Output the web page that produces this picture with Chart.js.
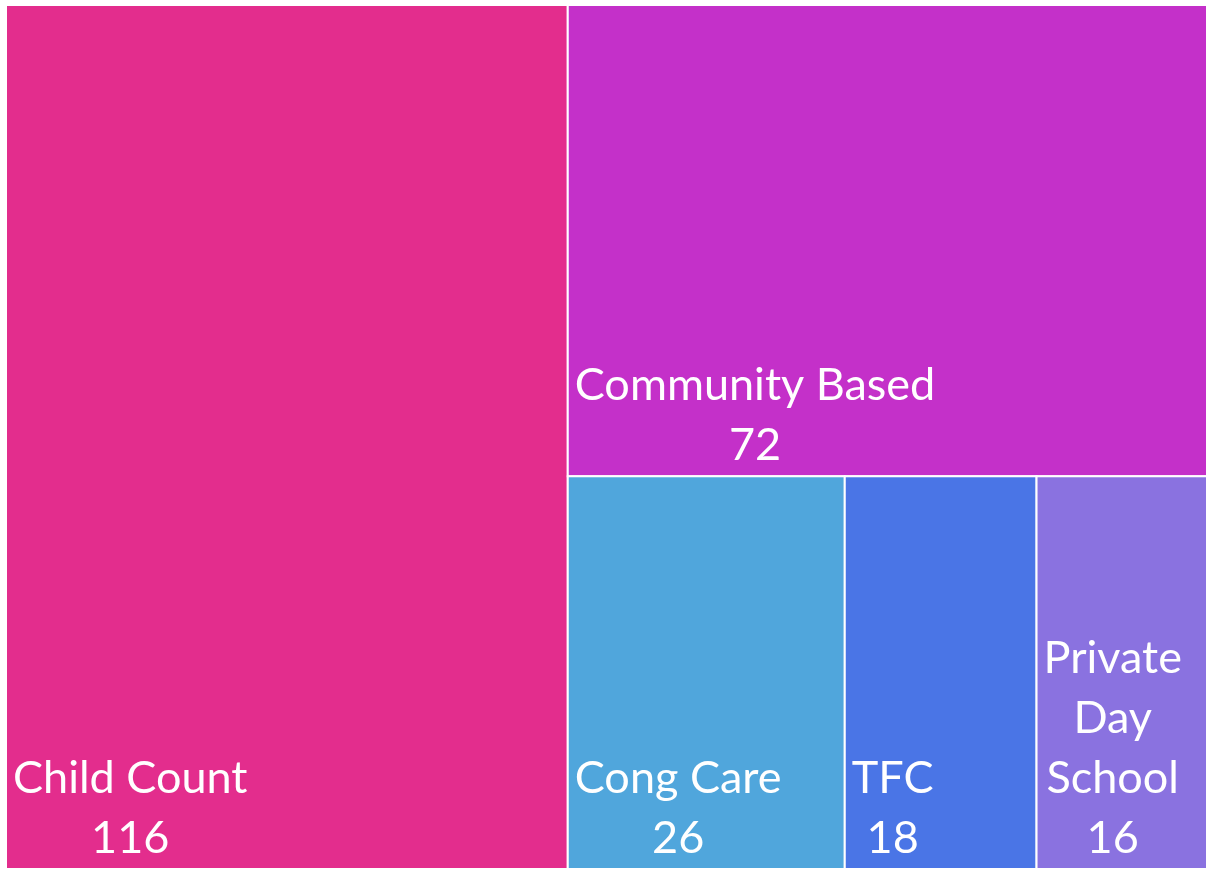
<!DOCTYPE html>
<html>
<head>
<meta charset="utf-8">
<script src="https://cdn.jsdelivr.net/npm/chart.js@4.4.0/dist/chart.umd.min.js"></script>
<style>
  html, body { margin: 0; padding: 0; background: #fff; }
  .wrap { width: 1207px; height: 869px; }
</style>
</head>
<body>
<div class="wrap"><canvas id="treeChart" width="1207" height="869"></canvas></div>
<script>
const categories = ['Child Count', 'Community Based', 'Cong Care', 'TFC', 'Private Day School']
const values = [116, 72, 26, 18, 16]
const colors = ['#E32D8D', '#C430C9', '#50A6DC', '#4A75E6', '#8A72E0']

// simple treemap: peel off the first item along the longer side,
// put the last few items in one strip
function layoutCells(items, x, y, w, h, W, H, out) {
  if (!items.length) return
  const sum = items.reduce((a, c) => a + c.value, 0)
  const wide = w * W >= h * H
  if (items.length <= 3) {
    let pos = wide ? x : y
    items.forEach(it => {
      const f = it.value / sum
      if (wide) { out.push({ ...it, x: pos, y: y, w: w * f, h: h }); pos += w * f }
      else { out.push({ ...it, x: x, y: pos, w: w, h: h * f }); pos += h * f }
    })
    return
  }
  const first = items[0]
  const f = first.value / sum
  if (wide) {
    out.push({ ...first, x: x, y: y, w: w * f, h: h })
    layoutCells(items.slice(1), x + w * f, y, w * (1 - f), h, W, H, out)
  } else {
    out.push({ ...first, x: x, y: y, w: w, h: h * f })
    layoutCells(items.slice(1), x, y + h * f, w, h * (1 - f), W, H, out)
  }
}

function wrapWords(ctx, text, maxW) {
  const words = text.split(' ')
  const lines = []
  let cur = ''
  words.forEach(word => {
    const test = cur ? cur + ' ' + word : word
    if (cur && ctx.measureText(test).width > maxW) { lines.push(cur); cur = word }
    else cur = test
  })
  if (cur) lines.push(cur)
  return lines
}

const treemapPlugin = {
  id: 'treemapCells',
  afterDatasetsDraw(chart) {
    const { ctx, chartArea, scales } = chart
    const items = categories.map((c, i) => ({ label: c, value: values[i], color: colors[i] }))
    const cells = []
    layoutCells(items, 0, 0, 1, 1, chartArea.width, chartArea.height, cells)

    ctx.save()
    cells.forEach(cell => {
      const left = scales.x.getPixelForValue(cell.x)
      const right = scales.x.getPixelForValue(cell.x + cell.w)
      const top = scales.y.getPixelForValue(cell.y)
      const bottom = scales.y.getPixelForValue(cell.y + cell.h)
      ctx.fillStyle = cell.color
      ctx.fillRect(left, top, right - left, bottom - top)
      ctx.strokeStyle = '#ffffff'
      ctx.lineWidth = 2
      ctx.strokeRect(left, top, right - left, bottom - top)

      ctx.font = '45px Lato'
      ctx.fillStyle = '#ffffff'
      ctx.textBaseline = 'alphabetic'
      ctx.textAlign = 'center'
      const lines = wrapWords(ctx, cell.label, right - left - 12)
      lines.push(String(cell.value))
      const blockW = Math.max(...lines.map(l => ctx.measureText(l).width))
      const cx = left + 7 + blockW / 2
      const lineH = 60
      lines.forEach((l, i) => {
        const base = bottom - 16 - (lines.length - 1 - i) * lineH
        ctx.fillText(l, cx, base)
      })
    })
    ctx.restore()
  }
}

new Chart(document.getElementById('treeChart'), {
  type: 'scatter',
  data: {
    labels: categories,
    datasets: [{ label: 'Child Count', data: [] }]
  },
  options: {
    responsive: false,
    animation: false,
    layout: { padding: { left: 6, top: 5, right: -1, bottom: -1 } },
    plugins: { legend: { display: false }, tooltip: { enabled: false } },
    scales: {
      x: { type: 'linear', min: 0, max: 1, display: false },
      y: { type: 'linear', min: 0, max: 1, reverse: true, display: false }
    }
  },
  plugins: [treemapPlugin]
})
</script>
</body>
</html>
